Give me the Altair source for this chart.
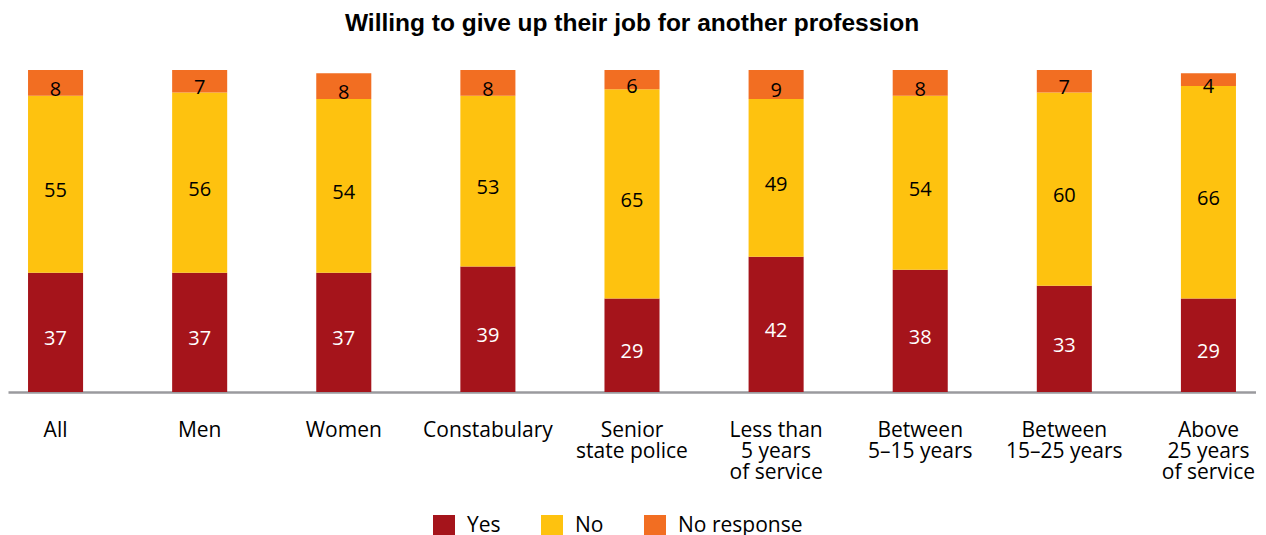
import altair as alt
import pandas as pd

categories = ["All", "Men", "Women", "Constabulary", "Senior|state police",
              "Less than|5 years|of service", "Between|5–15 years",
              "Between|15–25 years", "Above|25 years|of service"]
yes = [37, 37, 37, 39, 29, 42, 38, 33, 29]
no = [55, 56, 54, 53, 65, 49, 54, 60, 66]
no_resp = [8, 7, 8, 8, 6, 9, 8, 7, 4]
series = ["Yes", "No", "No response"]
colors = ["#A5141B", "#FEC20F", "#F26E22"]

rows = []
for i, c in enumerate(categories):
    for k, (s, vals) in enumerate(zip(series, [yes, no, no_resp])):
        rows.append({"cat": c, "series": s, "value": vals[i], "order": k})
df = pd.DataFrame(rows)

FONT = "Open Sans"

base = alt.Chart(df).transform_stack(
    stack="value", groupby=["cat"],
    sort=[alt.SortField("order", order="ascending")],
    as_=["y0", "y1"]
).transform_calculate(mid="(datum.y0 + datum.y1) / 2")

x_enc = alt.X(
    "cat:N", sort=categories,
    scale=alt.Scale(paddingInner=0.618, paddingOuter=0.139),
    axis=alt.Axis(title=None, labelExpr="split(datum.label, '|')", labelAngle=0,
                  ticks=False, domainColor="#9a9a9e", domainWidth=2.5,
                  labelFont=FONT, labelFontSize=21, labelPadding=27,
                  labelLineHeight=21, labelColor="#000", labelBaseline="top"),
)
y_scale = alt.Scale(domain=[0, 100])

bars = base.mark_bar().encode(
    x=x_enc,
    y=alt.Y("y0:Q", scale=y_scale, axis=None),
    y2="y1:Q",
    color=alt.Color("series:N", scale=alt.Scale(domain=series, range=colors),
                    legend=alt.Legend(title=None, orient="none", legendX=425, legendY=445,
                                      direction="horizontal", symbolType="square",
                                      symbolSize=484, symbolStrokeWidth=0,
                                      labelFont=FONT, labelFontSize=21, labelColor="black",
                                      columnPadding=40, labelOffset=12, padding=0)),
)

text = base.mark_text(font=FONT, fontSize=20, dy=7).encode(
    x=x_enc,
    y=alt.Y("mid:Q", scale=y_scale, axis=None),
    text="value:Q",
    color=alt.condition("datum.series == 'Yes'", alt.value("white"), alt.value("black")),
)

chart = alt.layer(bars, text).properties(
    width=1248, height=322,
    title=alt.Title("Willing to give up their job for another profession",
                    font="Liberation Sans", fontSize=24.5, fontWeight="bold",
                    anchor="middle", offset=34, color="black"),
    padding={"left": 0, "right": 0, "top": 2, "bottom": 0},
).configure_view(stroke=None)

chart.save("out.html", embed_options={"renderer": "svg", "actions": False})
